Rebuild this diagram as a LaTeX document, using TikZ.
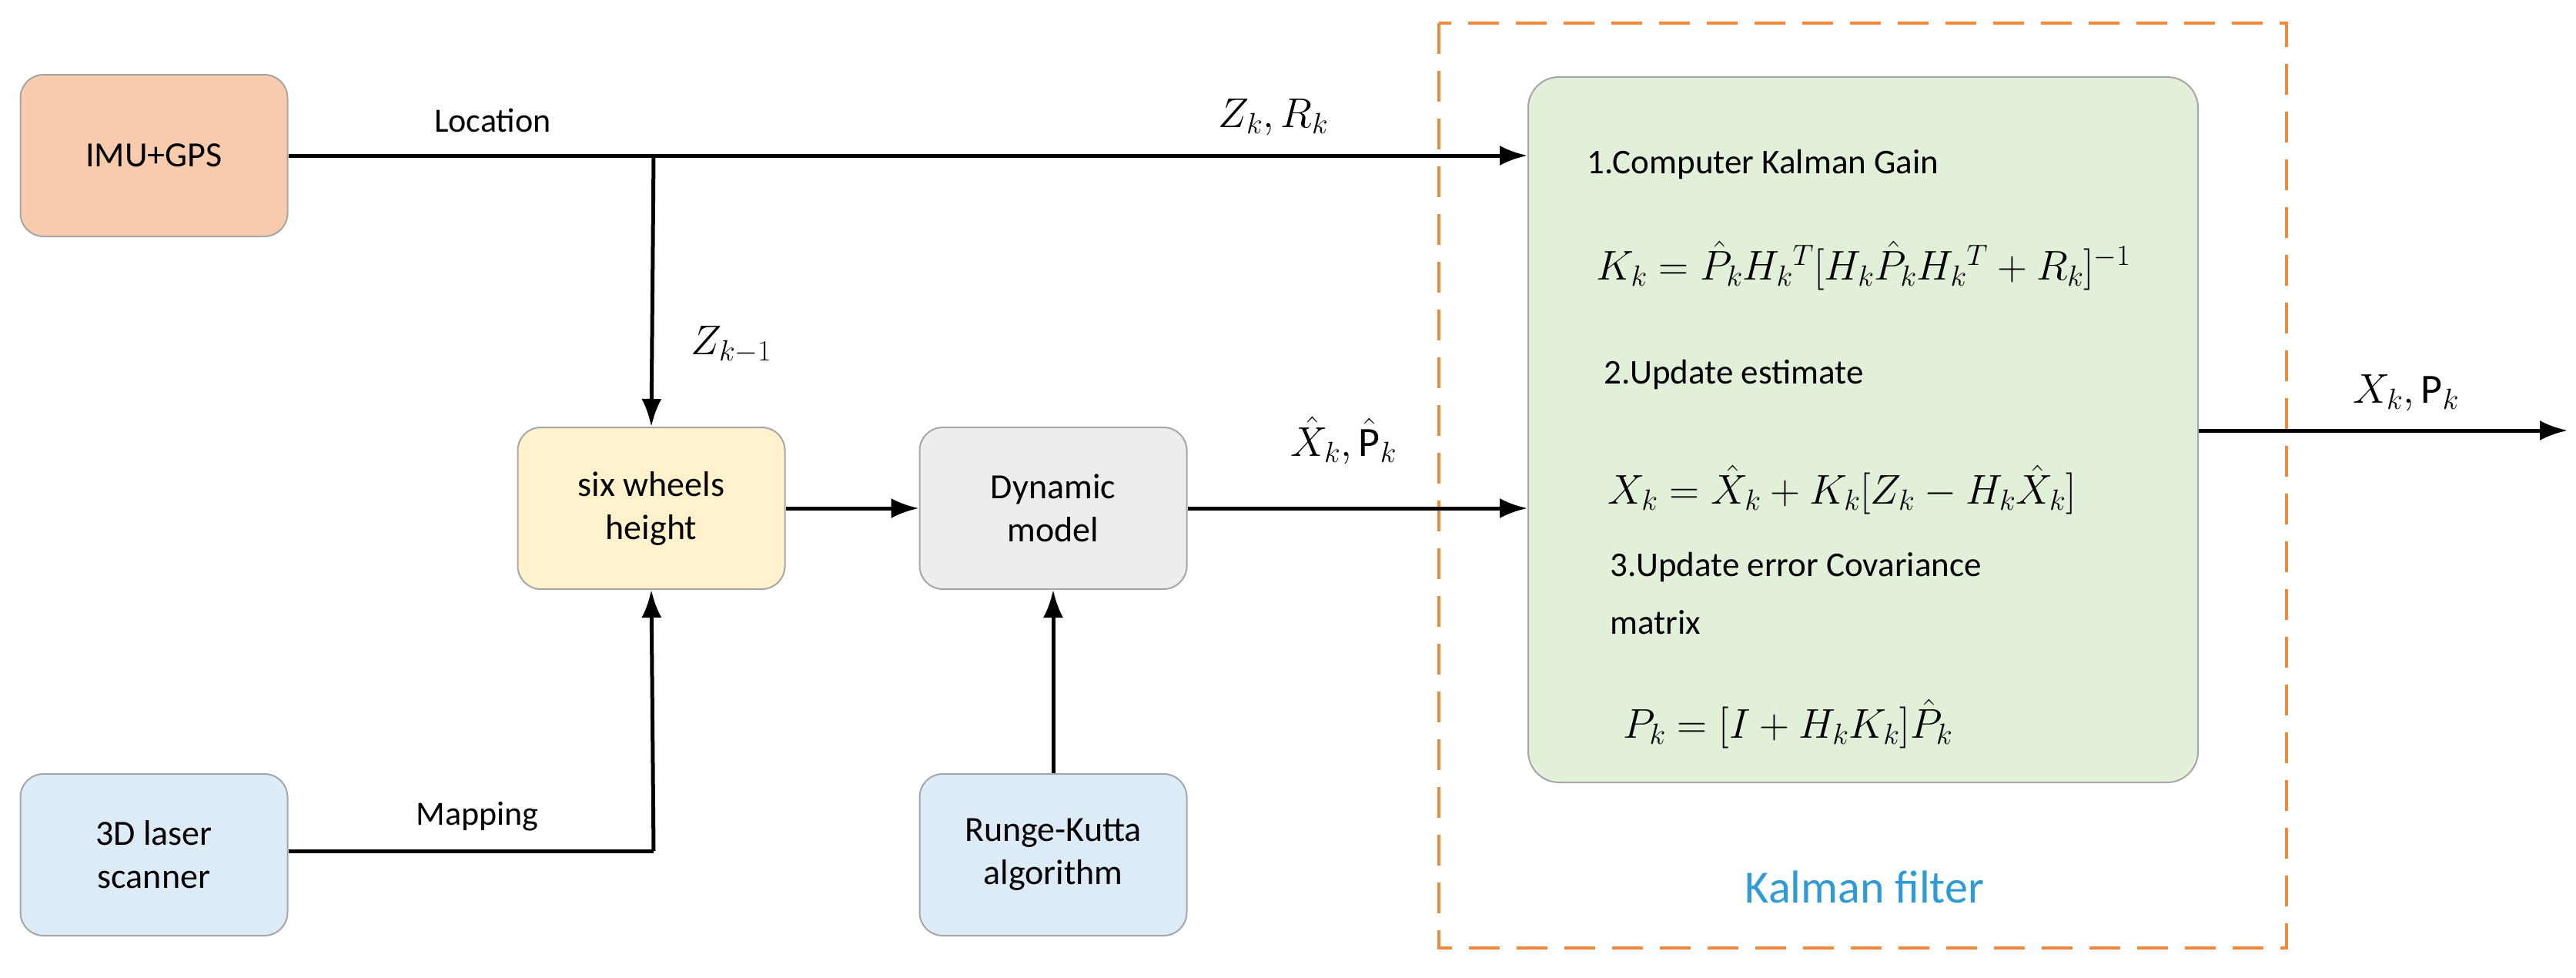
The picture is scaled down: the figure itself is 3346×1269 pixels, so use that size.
\RequirePackage{fix-cm}
\documentclass[tikz,border=0pt]{standalone}
\usepackage{fontspec}
\setmainfont{Carlito}
\usetikzlibrary{arrows.meta}
\definecolor{orf}{HTML}{F8CBAD}
\definecolor{blf}{HTML}{DDEBF7}
\definecolor{ylf}{HTML}{FFF2CC}
\definecolor{gyf}{HTML}{EDEDED}
\definecolor{grf}{HTML}{E2F0D9}
\definecolor{dshc}{HTML}{F4883A}
\definecolor{kal}{HTML}{2E9BD6}
\definecolor{bd}{HTML}{A6A6A6}
\DeclareMathSizes{54}{54}{38}{28}
\begin{document}
\begin{tikzpicture}[x=1pt,y=-1pt,
  box/.style={draw=bd,line width=2pt,rounded corners=30pt,minimum width=347pt,minimum height=210pt,align=center,font=\fontsize{46}{56}\selectfont},
  arr/.style={line width=5pt,-{Latex[length=36pt,width=26pt]}},
  ln/.style={line width=5pt},
  lab/.style={font=\fontsize{44}{52}\selectfont},
  mth/.style={font=\fontsize{54}{64}\selectfont},
  ktx/.style={anchor=west,font=\fontsize{45}{54}\selectfont}]
\useasboundingbox (0,0) rectangle (3346,1269);
\node[box,fill=orf] (imu) at (200,202) {IMU+GPS};
\node[box,fill=blf] (las) at (200,1110) {3D laser\\scanner};
\node[box,fill=ylf] (six) at (846,660) {six wheels\\height};
\node[box,fill=gyf] (dyn) at (1368,660) {Dynamic\\model};
\node[box,fill=blf] (rk) at (1368,1110) {Runge-Kutta\\algorithm};
\node[draw=bd,line width=2pt,fill=grf,rounded corners=40pt,minimum width=870pt,minimum height=916pt] (kf) at (2420,558) {};
\draw[draw=dshc,line width=4pt,dash pattern=on 40pt off 22pt] (1869,30) rectangle (2970,1231);
\node[font=\fontsize{60}{70}\selectfont,text=kal] (kl) at (2422,1152) {Kalman filter};
\coordinate (br) at (849,202);
\coordinate (mp) at (849,1105);
\coordinate (out) at (3335,559);
\draw[arr] (imu.east) -- (imu.east -| kf.west);
\draw[arr] (br) -- (six.north);
\draw[ln] (las.east |- mp) -- (mp);
\draw[arr] (mp) -- (six.south);
\draw[arr] (six) -- (dyn);
\draw[arr] (dyn.east) -- (dyn.east -| kf.west);
\draw[arr] (rk) -- (dyn);
\draw[arr] (kf.east |- out) -- (out);
\node[lab] (l1) at (640,156) {Location};
\node[lab] (l2) at (620,1060) {Mapping};
\node[mth] (z) at (1654,152) {$Z_k, R_k$};
\node[mth] (zk) at (950,448) {$Z_{k-1}$};
\node[mth] (xh) at (1745,572) {$\hat X_k, \hat{\mathrm P}_k$};
\node[mth] (xo) at (3125,510) {$X_k, \mathrm{P}_k$};
\node[ktx] (t1) at (2058,213) {1.Computer Kalman Gain};
\node[mth,anchor=west] (e1) at (2070,345) {$K_k=\hat P_k H_k{}^T[H_k\hat P_k H_k{}^T+R_k]^{-1}$};
\node[ktx] (t2) at (2080,486) {2.Update estimate};
\node[mth,anchor=west] (e2) at (2085,636) {$X_k=\hat X_k+K_k[Z_k-H_k\hat X_k]$};
\node[ktx] (t3) at (2088,736) {3.Update error Covariance};
\node[ktx] (t4) at (2088,808) {matrix};
\node[mth,anchor=west] (e3) at (2105,940) {$P_k=[I+H_kK_k]\hat P_k$};
\end{tikzpicture}
\end{document}
